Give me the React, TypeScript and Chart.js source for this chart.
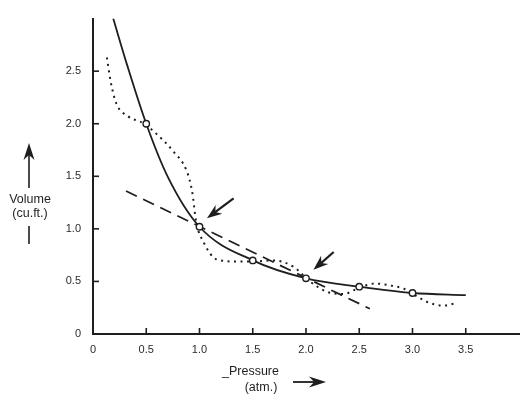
import React, { useEffect, useRef } from "react";
import { Chart, registerables } from "chart.js";

Chart.register(...registerables);

// Solid curve (Boyle's-law style curve)
const solidX = [0.19, 0.32, 0.5, 0.7, 1.0, 1.5, 2.0, 2.5, 3.0, 3.5];
const solidY = [3.0, 2.56, 2.0, 1.5, 1.02, 0.7, 0.53, 0.45, 0.39, 0.37];

// Measured points (open circles)
const markX = [0.5, 1.0, 1.5, 2.0, 2.5, 3.0];
const markY = [2.0, 1.02, 0.7, 0.53, 0.45, 0.39];

// Dotted wavy curve
const dotX = [0.13, 0.17, 0.22, 0.33, 0.48, 0.61, 0.76, 0.88, 0.93, 0.97, 1.04, 1.16, 1.34, 1.5, 1.7, 1.88, 2.05, 2.2, 2.35, 2.5, 2.65, 2.8, 2.92, 3.02, 3.15, 3.28, 3.4];
const dotY = [2.63, 2.38, 2.19, 2.07, 2.0, 1.89, 1.73, 1.55, 1.36, 1.06, 0.87, 0.71, 0.69, 0.69, 0.7, 0.64, 0.49, 0.4, 0.38, 0.44, 0.48, 0.46, 0.43, 0.37, 0.3, 0.27, 0.29];

// Dashed straight line
const dashX = [0.31, 2.6];
const dashY = [1.36, 0.24];

// Arrows pointing at the curve (tail -> tip), data coordinates
const arrowTailX = [1.32, 2.26];
const arrowTailY = [1.29, 0.78];
const arrowTipX = [1.07, 2.07];
const arrowTipY = [1.1, 0.61];

// Axis tick values
const xTicks = [0.5, 1.0, 1.5, 2.0, 2.5, 3.0, 3.5];
const yTicks = [0.5, 1.0, 1.5, 2.0, 2.5];

const toPts = (xs: number[], ys: number[]) => xs.map((x, i) => ({ x, y: ys[i] }));

const INK = "#1e1e1e";
const FONT = "'Liberation Sans', Arial, sans-serif";

function drawHead(ctx: CanvasRenderingContext2D, x1: number, y1: number, x2: number, y2: number, len: number, half: number) {
  const a = Math.atan2(y2 - y1, x2 - x1);
  const c = Math.cos(a), s = Math.sin(a);
  const bx = x2 - len * c, by = y2 - len * s;
  const nx = x2 - len * 0.7 * c, ny = y2 - len * 0.7 * s;
  ctx.beginPath();
  ctx.moveTo(x2, y2);
  ctx.lineTo(bx - half * s, by + half * c);
  ctx.lineTo(nx, ny);
  ctx.lineTo(bx + half * s, by - half * c);
  ctx.closePath();
  ctx.fill();
}

function drawArrow(ctx: CanvasRenderingContext2D, x1: number, y1: number, x2: number, y2: number, len: number, half: number, lw: number) {
  const a = Math.atan2(y2 - y1, x2 - x1);
  ctx.beginPath();
  ctx.moveTo(x1, y1);
  ctx.lineTo(x2 - len * 0.6 * Math.cos(a), y2 - len * 0.6 * Math.sin(a));
  ctx.lineWidth = lw;
  ctx.stroke();
  drawHead(ctx, x1, y1, x2, y2, len, half);
}

const decorPlugin = {
  id: "decor",
  afterDraw(chart: any) {
    const ctx = chart.ctx as CanvasRenderingContext2D;
    const xs = chart.scales.x;
    const ys = chart.scales.y;
    const area = chart.chartArea;
    ctx.save();
    ctx.strokeStyle = INK;
    ctx.fillStyle = INK;
    ctx.lineWidth = 1.6;
    // inward tick marks
    xTicks.forEach((v) => {
      const px = xs.getPixelForValue(v);
      ctx.beginPath();
      ctx.moveTo(px, area.bottom);
      ctx.lineTo(px, area.bottom - 6);
      ctx.stroke();
    });
    yTicks.forEach((v) => {
      const py = ys.getPixelForValue(v);
      ctx.beginPath();
      ctx.moveTo(area.left, py);
      ctx.lineTo(area.left + 6, py);
      ctx.stroke();
    });
    // arrows pointing to the curve
    arrowTailX.forEach((_, i) => {
      drawArrow(
        ctx,
        xs.getPixelForValue(arrowTailX[i]),
        ys.getPixelForValue(arrowTailY[i]),
        xs.getPixelForValue(arrowTipX[i]),
        ys.getPixelForValue(arrowTipY[i]),
        15,
        5.5,
        2.2
      );
    });
    // axis titles
    ctx.font = `12.5px ${FONT}`;
    ctx.textAlign = "center";
    ctx.textBaseline = "middle";
    ctx.fillText("Volume", 30, 200);
    ctx.fillText("(cu.ft.)", 30, 214);
    drawArrow(ctx, 29, 188, 29, 143, 17, 5.5, 1.6);
    ctx.lineWidth = 1.6;
    ctx.beginPath();
    ctx.moveTo(29, 226);
    ctx.lineTo(29, 244);
    ctx.stroke();

    ctx.textAlign = "left";
    ctx.fillText("_Pressure", 222, 372);
    ctx.textAlign = "center";
    ctx.fillText("(atm.)", 261, 388);
    drawArrow(ctx, 293, 382, 326, 382, 17, 5.5, 1.8);
    ctx.restore();
  },
};

export default function App() {
  const ref = useRef<HTMLCanvasElement>(null);
  useEffect(() => {
    if (!ref.current) return;
    const fmt = (v: number, max: number) => (v === max ? "" : v === 0 ? "0" : v.toFixed(1));
    const chart = new Chart(ref.current, {
      type: "scatter",
      data: {
        datasets: [
          {
            data: toPts(markX, markY),
            showLine: false,
            pointRadius: 3.2,
            pointBackgroundColor: "#ffffff",
            pointBorderColor: INK,
            pointBorderWidth: 1.4,
          },
          {
            data: toPts(solidX, solidY),
            showLine: true,
            borderColor: INK,
            borderWidth: 1.8,
            pointRadius: 0,
            cubicInterpolationMode: "monotone",
          },
          {
            data: toPts(dotX, dotY),
            showLine: true,
            borderColor: INK,
            borderWidth: 2,
            borderDash: [2, 4.5],
            pointRadius: 0,
            cubicInterpolationMode: "monotone",
          },
          {
            data: toPts(dashX, dashY),
            showLine: true,
            borderColor: INK,
            borderWidth: 1.7,
            borderDash: [12, 7],
            pointRadius: 0,
          },
        ] as any,
      },
      options: {
        animation: false,
        responsive: false,
        maintainAspectRatio: false,
        layout: { padding: { top: 8, right: 0, left: 0, bottom: 0 } },
        plugins: { legend: { display: false }, tooltip: { enabled: false } },
        scales: {
          x: {
            type: "linear",
            min: 0,
            max: 4,
            grid: { display: false, drawTicks: false },
            border: { display: true, color: INK, width: 2 },
            ticks: {
              stepSize: 0.5,
              padding: 9,
              color: "#2a2a2a",
              font: { family: FONT, size: 11 },
              callback: (v: any) => fmt(Number(v), 4),
              maxRotation: 0,
              autoSkip: false,
            },
            afterFit: (s: any) => {
              s.height = 67;
            },
          },
          y: {
            type: "linear",
            min: 0,
            max: 3,
            grid: { display: false, drawTicks: false },
            border: { display: true, color: INK, width: 2 },
            ticks: {
              stepSize: 0.5,
              padding: 12,
              color: "#2a2a2a",
              font: { family: FONT, size: 11 },
              callback: (v: any) => fmt(Number(v), 3),
              autoSkip: false,
            },
            afterFit: (s: any) => {
              s.width = 93;
            },
          },
        },
      } as any,
      plugins: [decorPlugin],
    });
    return () => chart.destroy();
  }, []);
  return (
    <div style={{ position: "fixed", left: 0, top: 0, width: 528, height: 401, background: "#fff" }}>
      <canvas ref={ref} width={528} height={401} style={{ width: 528, height: 401 }} />
    </div>
  );
}
